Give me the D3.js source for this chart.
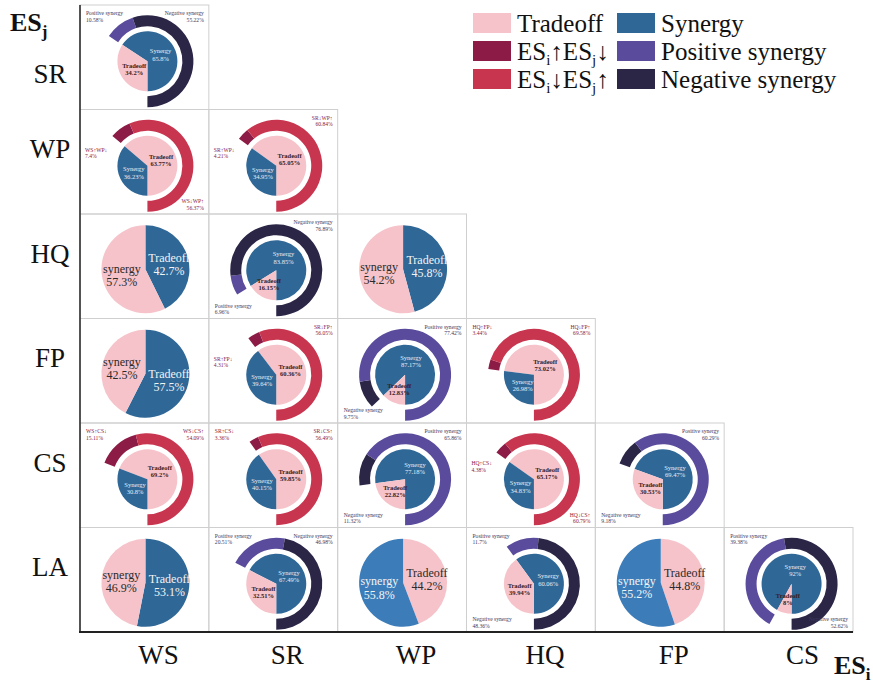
<!DOCTYPE html>
<html>
<head>
<meta charset="utf-8">
<script src="https://cdn.jsdelivr.net/npm/d3@7"></script>
<style>
  body { margin: 0; background: #fff; }
  svg { display: block; font-family: "Liberation Serif", "Times New Roman", serif; }
</style>
</head>
<body>
<svg id="chart"></svg>
<script>
// ES_j down the side, ES_i along the bottom
const rowNames = ["SR", "WP", "HQ", "FP", "CS", "LA"];
const colNames = ["WS", "SR", "WP", "HQ", "FP", "CS"];

// plain pies: tradeoff share (starts at 12 o'clock) and synergy share
const pieCells = [
  { col: "WS", row: "HQ", tradeoff: 42.7, synergy: 57.3 },
  { col: "WP", row: "HQ", tradeoff: 45.8, synergy: 54.2 },
  { col: "WS", row: "FP", tradeoff: 57.5, synergy: 42.5 },
  { col: "WS", row: "LA", tradeoff: 53.1, synergy: 46.9 },
  { col: "WP", row: "LA", tradeoff: 44.2, synergy: 55.8 },
  { col: "FP", row: "LA", tradeoff: 44.8, synergy: 55.2 }
];

// donuts: inner pie + outer ring splitting one of the two parts
// ring entries are in drawing order [key, value]
const donutCells = [
  { col: "WS", row: "SR", kind: "syn", synergy: 65.8, tradeoff: 34.2, ring: [["pos", 10.58], ["neg", 55.22]] },
  { col: "WS", row: "WP", kind: "trade", synergy: 36.23, tradeoff: 63.77, ring: [["up", 7.4], ["down", 56.37]] },
  { col: "SR", row: "WP", kind: "trade", synergy: 34.95, tradeoff: 65.05, ring: [["up", 4.21], ["down", 60.84]] },
  { col: "SR", row: "HQ", kind: "syn", synergy: 83.85, tradeoff: 16.15, ring: [["pos", 6.96], ["neg", 76.89]] },
  { col: "SR", row: "FP", kind: "trade", synergy: 39.64, tradeoff: 60.36, ring: [["up", 4.31], ["down", 56.05]] },
  { col: "WP", row: "FP", kind: "syn", synergy: 87.17, tradeoff: 12.83, ring: [["neg", 9.75], ["pos", 77.42]] },
  { col: "HQ", row: "FP", kind: "trade", synergy: 26.98, tradeoff: 73.02, ring: [["up", 3.44], ["down", 69.58]] },
  { col: "WS", row: "CS", kind: "trade", synergy: 30.8, tradeoff: 69.2, ring: [["up", 15.11], ["down", 54.09]] },
  { col: "SR", row: "CS", kind: "trade", synergy: 40.15, tradeoff: 59.85, ring: [["up", 3.36], ["down", 56.49]] },
  { col: "WP", row: "CS", kind: "syn", synergy: 77.18, tradeoff: 22.82, ring: [["neg", 11.32], ["pos", 65.86]] },
  { col: "HQ", row: "CS", kind: "trade", synergy: 34.83, tradeoff: 65.17, ring: [["up", 4.38], ["down", 60.79]] },
  { col: "FP", row: "CS", kind: "syn", synergy: 69.47, tradeoff: 30.53, ring: [["neg", 9.18], ["pos", 60.29]] },
  { col: "SR", row: "LA", kind: "syn", synergy: 67.49, tradeoff: 32.51, ring: [["pos", 20.51], ["neg", 46.98]] },
  { col: "HQ", row: "LA", kind: "syn", synergy: 60.06, tradeoff: 39.94, ring: [["pos", 11.7], ["neg", 48.36]] },
  { col: "CS", row: "LA", kind: "syn", synergy: 92, tradeoff: 8, ring: [["pos", 39.38], ["neg", 52.62]] }
];

// where the two ring labels sit inside each donut cell (layout only)
const ringLabelSpots = {
  "WS-SR": ["tl", "tr"], "WS-WP": ["l", "br"], "SR-WP": ["l", "tr"],
  "SR-HQ": ["bl", "tr"], "SR-FP": ["l", "tr"], "WP-FP": ["bl", "tr"],
  "HQ-FP": ["tl", "tr"], "WS-CS": ["tl", "tr"], "SR-CS": ["tl", "tr"],
  "WP-CS": ["bl", "tr"], "HQ-CS": ["l", "br"], "FP-CS": ["bl", "tr"],
  "SR-LA": ["tl", "tr"], "HQ-LA": ["tl", "bl"], "CS-LA": ["tl", "br"]
};
// pies where the tradeoff slice was coloured blue in the original
const blueTradeoff = ["WS-HQ", "WP-HQ", "WS-FP", "WS-LA"];

const colors = {
  Tradeoff: "#f5c3c9",
  Synergy: "#2f6796",
  lightBlue: "#3b7cb9",
  up: "#8c1b45",
  down: "#c8354f",
  pos: "#5b4b9c",
  neg: "#2b2546"
};

const width = 873;
const height = 683;

const svg = d3.select("#chart").attr("width", width).attr("height", height);

const x = d3.scaleBand().domain(colNames).range([80, 853]);
const y = d3.scaleBand().domain(rowNames).range([5, 632]);

// cell frames (lower triangle)
rowNames.forEach((r, ri) => {
  colNames.slice(0, ri + 1).forEach(c => {
    svg.append("rect")
      .attr("x", x(c)).attr("y", y(r))
      .attr("width", x.bandwidth()).attr("height", y.bandwidth())
      .attr("fill", "none")
      .attr("stroke", "#cfcfcf")
      .attr("stroke-width", 1);
  });
});

// ---- plain pies
const pieR = 44;
const pieArc = d3.arc().innerRadius(0).outerRadius(pieR);
const pieLabelArc = d3.arc().innerRadius(pieR * 0.55).outerRadius(pieR * 0.55);

pieCells.forEach(d => {
  const key = d.col + "-" + d.row;
  const cx = x(d.col) + x.bandwidth() / 2 + 1;
  const cy = y(d.row) + y.bandwidth() / 2 + 3;
  const g = svg.append("g").attr("transform", `translate(${cx},${cy})`);
  const tradeBlue = blueTradeoff.includes(key);
  const slices = [
    { name: "Tradeoff", v: d.tradeoff, fill: tradeBlue ? colors.Synergy : colors.Tradeoff },
    { name: "synergy", v: d.synergy, fill: tradeBlue ? colors.Tradeoff : colors.lightBlue }
  ];
  const arcs = d3.pie().sort(null).value(s => s.v)(slices);

  g.selectAll("path").data(arcs).enter().append("path")
    .attr("d", pieArc)
    .attr("fill", a => a.data.fill);

  const t = g.selectAll("text").data(arcs).enter().append("text")
    .attr("transform", a => `translate(${pieLabelArc.centroid(a)})`)
    .attr("text-anchor", "middle")
    .attr("font-size", 12)
    .attr("fill", a => a.data.fill === colors.Tradeoff ? "#2a2a2a" : "#f4f4f4");
  t.append("tspan").attr("x", 0).attr("dy", "-0.15em").text(a => a.data.name);
  t.append("tspan").attr("x", 0).attr("dy", "1.1em").text(a => a.data.v + "%");
});

// ---- donuts
const ringOut = 46, ringIn = 35, innerR = 30;
const innerArc = d3.arc().innerRadius(0).outerRadius(innerR);
const innerLabelArc = d3.arc().innerRadius(innerR * 0.5).outerRadius(innerR * 0.5);
const ringArc = d3.arc().innerRadius(ringIn).outerRadius(ringOut);

function ringName(k, d) {
  if (k === "pos") return "Positive synergy";
  if (k === "neg") return "Negative synergy";
  if (k === "up") return d.col + "↑" + d.row + "↓";
  return d.col + "↓" + d.row + "↑";
}

function spot(code, x0, y0, x1, y1, cy) {
  if (code === "tl") return [x0 + 6, y0 + 10, "start"];
  if (code === "tr") return [x1 - 5, y0 + 10, "end"];
  if (code === "bl") return [x0 + 6, y1 - 11, "start"];
  if (code === "br") return [x1 - 5, y1 - 11, "end"];
  return [x0 + 5, cy - 14, "start"];
}

donutCells.forEach(d => {
  const key = d.col + "-" + d.row;
  const x0 = x(d.col), x1 = x0 + x.bandwidth();
  const y0 = y(d.row), y1 = y0 + y.bandwidth();
  const cx = x0 + x.bandwidth() / 2 + 3;
  const cy = y0 + y.bandwidth() / 2 + 4;
  const g = svg.append("g").attr("transform", `translate(${cx},${cy})`);

  const ringTotal = d.kind === "syn" ? d.synergy : d.tradeoff;
  const theta = ringTotal / 100 * 2 * Math.PI;

  const inner = d.kind === "syn"
    ? [{ name: "Synergy", v: d.synergy }, { name: "Tradeoff", v: d.tradeoff }]
    : [{ name: "Tradeoff", v: d.tradeoff }, { name: "Synergy", v: d.synergy }];

  const innerArcs = d3.pie().sort(null).value(s => s.v)
    .startAngle(Math.PI - theta).endAngle(3 * Math.PI - theta)(inner);

  g.selectAll("path.inner").data(innerArcs).enter().append("path")
    .attr("class", "inner")
    .attr("d", innerArc)
    .attr("fill", a => colors[a.data.name]);

  const it = g.selectAll("text.inner").data(innerArcs).enter().append("text")
    .attr("class", "inner")
    .attr("transform", a => `translate(${innerLabelArc.centroid(a)})`)
    .attr("text-anchor", "middle")
    .attr("font-size", 6.5)
    .attr("font-weight", a => a.data.name === "Tradeoff" ? "bold" : "normal")
    .attr("fill", a => a.data.name === "Tradeoff" ? "#3a1a22" : "#e6eef6");
  it.append("tspan").attr("x", 0).attr("dy", "-0.1em").text(a => a.data.name);
  it.append("tspan").attr("x", 0).attr("dy", "1.1em").text(a => a.data.v + "%");

  const ringArcs = d3.pie().sort(null).value(s => s[1])
    .startAngle(Math.PI - theta).endAngle(Math.PI)(d.ring);

  g.selectAll("path.ring").data(ringArcs).enter().append("path")
    .attr("class", "ring")
    .attr("d", ringArc)
    .attr("fill", a => colors[a.data[0]]);

  const spots = ringLabelSpots[key];
  ringArcs.forEach((a, i) => {
    const [lx, ly, anchor] = spot(spots[i], x0, y0, x1, y1, cy);
    const isTrade = a.data[0] === "up" || a.data[0] === "down";
    const lt = svg.append("text")
      .attr("x", lx).attr("y", ly)
      .attr("text-anchor", anchor)
      .attr("font-size", 5.6)
      .attr("fill", isTrade ? "#8a2040" : "#3d3a5c");
    lt.append("tspan").attr("x", lx).text(ringName(a.data[0], d));
    lt.append("tspan").attr("x", lx).attr("dy", "1.2em").text(a.data[1] + "%");
  });
});

// ---- axes frame
svg.append("line")
  .attr("x1", 80).attr("x2", 80).attr("y1", 5).attr("y2", 632)
  .attr("stroke", "#222").attr("stroke-width", 1.5);
svg.append("line")
  .attr("x1", 79).attr("x2", 853).attr("y1", 632).attr("y2", 632)
  .attr("stroke", "#222").attr("stroke-width", 2.2);

// row labels (ES_j)
const yAxis = svg.append("g")
  .attr("transform", "translate(50,-12)")
  .call(d3.axisLeft(y).tickSize(0).tickPadding(0));
yAxis.select(".domain").remove();
yAxis.selectAll("text")
  .attr("x", 0)
  .attr("text-anchor", "middle")
  .attr("font-family", "Liberation Serif, Times New Roman, serif")
  .attr("font-size", 27)
  .attr("fill", "#111")
  .attr("dy", d => d === "SR" ? "1.4em" : "0.32em");

// column labels (ES_i)
const xAxis = svg.append("g")
  .attr("transform", "translate(14,642)")
  .call(d3.axisBottom(x).tickSize(0).tickPadding(0));
xAxis.select(".domain").remove();
xAxis.selectAll("text")
  .attr("font-family", "Liberation Serif, Times New Roman, serif")
  .attr("font-size", 27)
  .attr("fill", "#111")
  .attr("dy", "0.8em");

// axis titles
const tj = svg.append("text").attr("x", 10).attr("y", 31)
  .attr("font-size", 26).attr("font-weight", "bold").attr("fill", "#111");
tj.append("tspan").text("ES");
tj.append("tspan").attr("font-size", 17).attr("dy", 6).text("j");

const ti = svg.append("text").attr("x", 834).attr("y", 674)
  .attr("font-size", 26).attr("font-weight", "bold").attr("fill", "#111");
ti.append("tspan").text("ES");
ti.append("tspan").attr("font-size", 17).attr("dy", 6).text("i");

// ---- legend
const legendItems = [
  { key: "Tradeoff", parts: [["Tradeoff"]] },
  { key: "up", parts: [["ES"], ["i", "sub"], ["↑ES"], ["j", "sub"], ["↓"]] },
  { key: "down", parts: [["ES"], ["i", "sub"], ["↓ES"], ["j", "sub"], ["↑"]] },
  { key: "Synergy", parts: [["Synergy"]] },
  { key: "pos", parts: [["Positive synergy"]] },
  { key: "neg", parts: [["Negative synergy"]] }
];

const legend = svg.append("g").attr("transform", "translate(473,13)");
legendItems.forEach((item, i) => {
  const col = Math.floor(i / 3), row = i % 3;
  const gx = col * 144, gy = row * 28;
  legend.append("rect")
    .attr("x", gx).attr("y", gy)
    .attr("width", 38).attr("height", 20)
    .attr("fill", colors[item.key]);
  const txt = legend.append("text")
    .attr("x", gx + 44).attr("y", gy + 19)
    .attr("font-size", 25).attr("fill", "#111");
  item.parts.forEach(p => {
    const ts = txt.append("tspan").text(p[0]);
    if (p[1] === "sub") ts.attr("font-size", 15).attr("dy", 5);
    else if (txt.node().childNodes.length > 1) ts.attr("dy", -5);
  });
});
</script>
</body>
</html>
